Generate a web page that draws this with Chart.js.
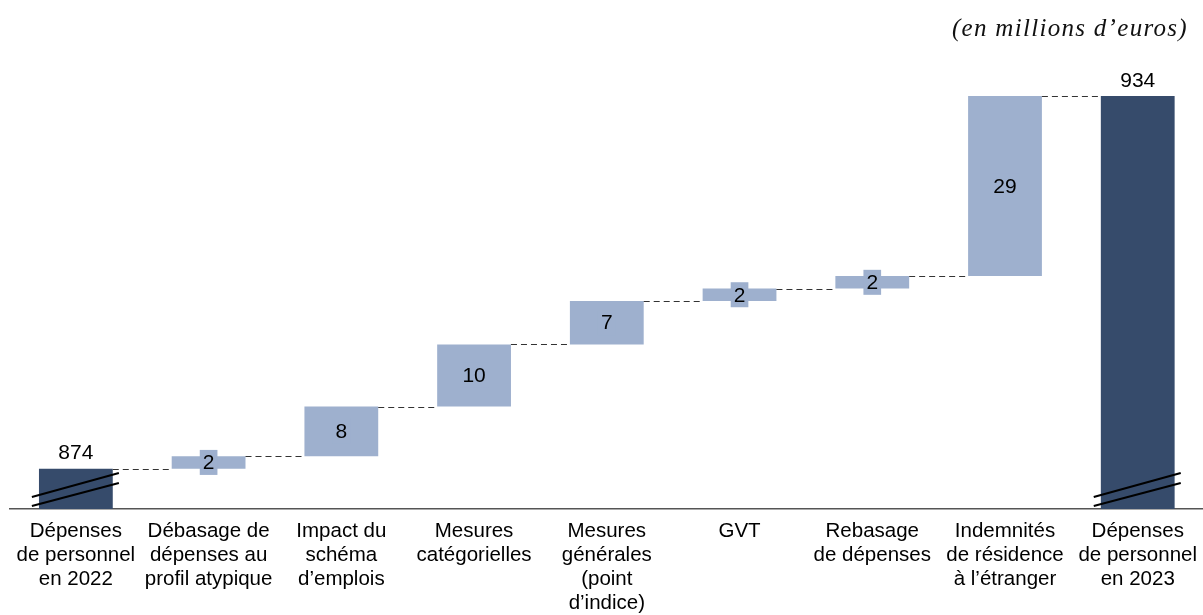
<!DOCTYPE html>
<html>
<head>
<meta charset="utf-8">
<script src="https://cdn.jsdelivr.net/npm/chart.js@4"></script>
<style>
  html, body { margin: 0; padding: 0; background: #fff; overflow: hidden; }
  #wrap { position: relative; width: 1203px; height: 615px; overflow: hidden; }
  #unit {
    position: absolute; right: 15px; top: 14px;
    font-family: "Liberation Serif", serif; font-style: italic;
    font-size: 25px; letter-spacing: 1.3px; color: #111;
  }
</style>
</head>
<body>
<div id="wrap">
  <canvas id="chart" width="1207" height="615"></canvas>
  <div id="unit">(en millions d’euros)</div>
</div>
<script>
// Waterfall data (millions d'euros)
const categories = [
  ['Dépenses', 'de personnel', 'en 2022'],
  ['Débasage de', 'dépenses au', 'profil atypique'],
  ['Impact du', 'schéma', 'd’emplois'],
  ['Mesures', 'catégorielles'],
  ['Mesures', 'générales', '(point', 'd’indice)'],
  ['GVT'],
  ['Rebasage', 'de dépenses'],
  ['Indemnités', 'de résidence', 'à l’étranger'],
  ['Dépenses', 'de personnel', 'en 2023']
];
const startTotal = 874;
const steps = [2, 8, 10, 7, 2, 2, 29];
const endTotal = 934;
const yMin = 867.5;
const yMax = 934;

const DARK = '#364b6b';
const LIGHT = '#9eb0ce';

// build floating bars from the arrays
const ranges = [];
const labelsTxt = [];
const colors = [];
let level = startTotal;
ranges.push([yMin, startTotal]); labelsTxt.push(String(startTotal)); colors.push(DARK);
steps.forEach(s => {
  ranges.push([level, level + s]);
  labelsTxt.push(String(s));
  colors.push(LIGHT);
  level += s;
});
ranges.push([yMin, endTotal]); labelsTxt.push(String(endTotal)); colors.push(DARK);

const FONT = '21px "Liberation Sans", Arial, sans-serif';

// labels, dashed connectors and axis-break marks
const waterfallDecor = {
  id: 'waterfallDecor',
  afterDatasetsDraw(chart) {
    const ctx = chart.ctx;
    const meta = chart.getDatasetMeta(0);
    const y = chart.scales.y;
    const bottom = chart.chartArea.bottom;
    ctx.save();

    // dashed connectors
    ctx.strokeStyle = '#333';
    ctx.lineWidth = 1.2;
    ctx.setLineDash([6, 4]);
    for (let i = 0; i < meta.data.length - 1; i++) {
      const a = meta.data[i], b = meta.data[i + 1];
      const top = ranges[i][1];
      const py = Math.round(y.getPixelForValue(top)) + 0.5;
      ctx.beginPath();
      ctx.moveTo(a.x + a.width / 2, py);
      ctx.lineTo(b.x - b.width / 2, py);
      ctx.stroke();
    }
    ctx.setLineDash([]);

    // value labels
    ctx.font = FONT;
    ctx.textAlign = 'center';
    ctx.textBaseline = 'middle';
    meta.data.forEach((bar, i) => {
      const txt = labelsTxt[i];
      if (colors[i] === DARK) {
        ctx.fillStyle = '#000';
        ctx.fillText(txt, bar.x, Math.min(bar.y, bar.base) - 15);
      } else {
        const cy = (bar.y + bar.base) / 2;
        const w = ctx.measureText(txt).width + 6;
        ctx.fillStyle = LIGHT;
        ctx.fillRect(bar.x - w / 2, cy - 12.5, w, 25);
        ctx.fillStyle = '#000';
        ctx.fillText(txt, bar.x, cy + 1);
      }
    });

    // axis-break marks on total bars
    ctx.strokeStyle = '#000';
    ctx.lineWidth = 2;
    [0, meta.data.length - 1].forEach(i => {
      const bx = meta.data[i].x;
      [[12, 36], [3, 26]].forEach(([d1, d2]) => {
        ctx.beginPath();
        ctx.moveTo(bx - 44, bottom - d1);
        ctx.lineTo(bx + 43, bottom - d2);
        ctx.stroke();
      });
    });
    ctx.restore();
  }
};

new Chart(document.getElementById('chart'), {
  type: 'bar',
  data: {
    labels: categories,
    datasets: [{
      data: ranges,
      backgroundColor: colors,
      borderWidth: 0,
      barPercentage: 0.556,
      categoryPercentage: 1
    }]
  },
  options: {
    responsive: false,
    animation: false,
    layout: { padding: { left: 9.5, right: 0, top: 96, bottom: 0 } },
    plugins: { legend: { display: false }, tooltip: { enabled: false } },
    scales: {
      x: {
        grid: { display: false, drawTicks: false },
        border: { display: true, color: '#555', width: 1.5 },
        ticks: {
          color: '#000',
          padding: 10,
          maxRotation: 0,
          autoSkip: false,
          font: { family: '"Liberation Sans", Arial, sans-serif', size: 20.5, lineHeight: 1.17 }
        },
        afterFit(scale) { scale.height = 106; }
      },
      y: {
        display: false,
        min: yMin,
        max: yMax
      }
    }
  },
  plugins: [waterfallDecor]
});
</script>
</body>
</html>
